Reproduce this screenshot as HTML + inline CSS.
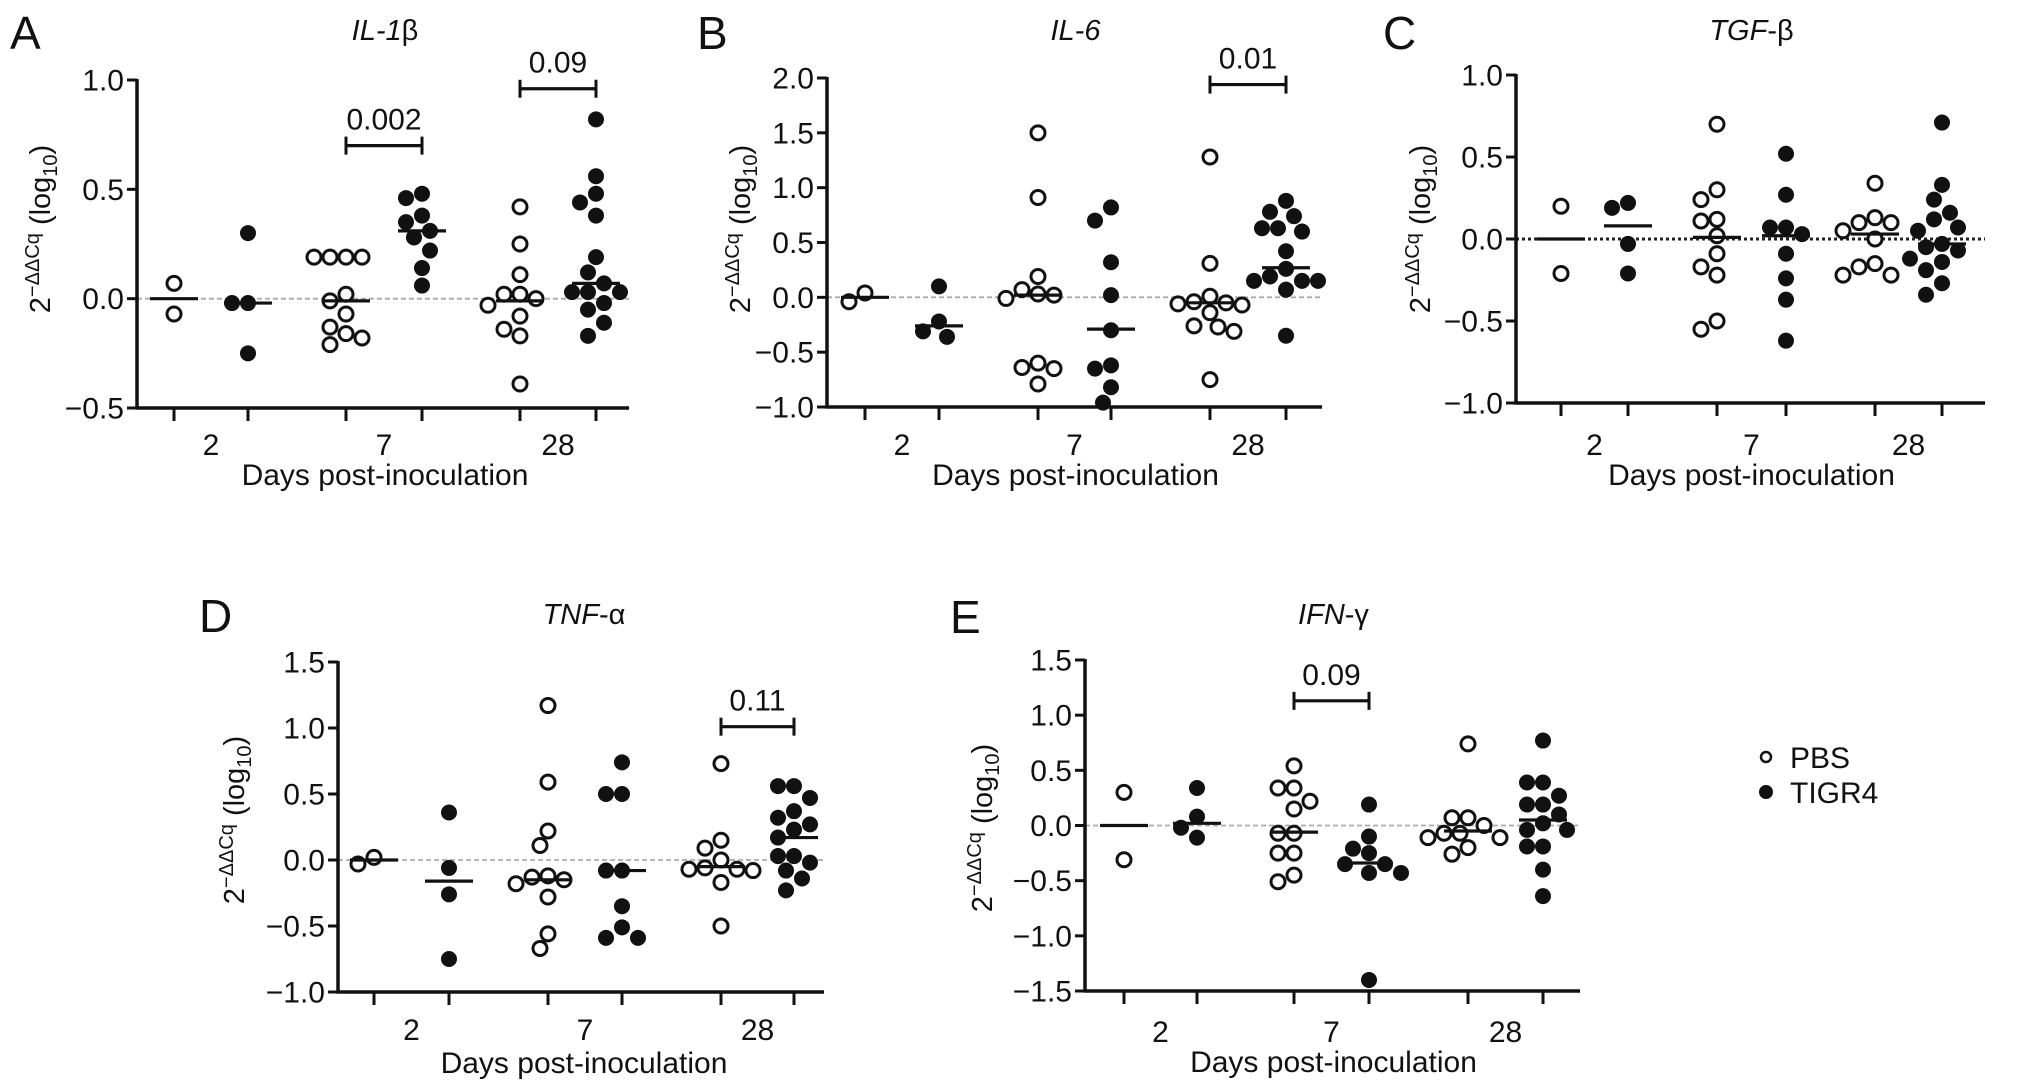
<!DOCTYPE html>
<html><head><meta charset="utf-8"><style>
html,body{margin:0;padding:0;background:#fff;}
svg{display:block;font-family:"Liberation Sans",Arial,sans-serif;}
</style></head><body>
<svg id="fig" width="2032" height="1092" viewBox="0 0 2032 1092" xmlns="http://www.w3.org/2000/svg"></svg>
<script>
// ---- Data ----
const days = ["2","7","28"];
const groups = ["PBS","TIGR4"];
// Panel A IL-1β
const a_pbs_d2 = [0.07,-0.07];
const a_tig_d2 = [0.30,-0.02,-0.02,-0.25];
const a_pbs_d7 = [0.19,0.19,0.19,0.19,0.02,-0.01,-0.07,-0.13,-0.16,-0.18,-0.21];
const a_tig_d7 = [0.48,0.46,0.38,0.35,0.31,0.28,0.22,0.14,0.06];
const a_pbs_d28 = [0.42,0.25,0.11,0.02,0.02,0.0,-0.03,-0.08,-0.14,-0.17,-0.39];
const a_tig_d28 = [0.82,0.56,0.48,0.44,0.38,0.19,0.12,0.07,0.03,0.03,0.03,-0.02,-0.05,-0.11,-0.17];
const a_medians = [0.0,-0.02,-0.01,0.31,-0.01,0.07];
// Panel B IL-6
const b_pbs_d2 = [-0.04,0.04];
const b_tig_d2 = [0.10,-0.22,-0.31,-0.36];
const b_pbs_d7 = [1.50,0.91,0.19,0.07,0.03,0.02,-0.01,-0.60,-0.64,-0.65,-0.79];
const b_tig_d7 = [0.82,0.70,0.32,0.02,-0.30,-0.62,-0.65,-0.82,-0.96];
const b_pbs_d28 = [1.28,0.31,0.01,-0.04,-0.05,-0.06,-0.07,-0.14,-0.26,-0.27,-0.31,-0.75];
const b_tig_d28 = [0.88,0.78,0.74,0.63,0.63,0.60,0.42,0.26,0.19,0.15,0.15,0.15,0.07,-0.35];
const b_medians = [0.0,-0.26,0.02,-0.29,-0.05,0.27];
// Panel C TGF-β
const c_pbs_d2 = [0.20,-0.21];
const c_tig_d2 = [0.22,0.19,-0.03,-0.21];
const c_pbs_d7 = [0.70,0.30,0.24,0.12,0.11,0.02,-0.09,-0.17,-0.22,-0.50,-0.55];
const c_tig_d7 = [0.52,0.27,0.07,0.07,0.03,-0.09,-0.24,-0.37,-0.62];
const c_pbs_d28 = [0.34,0.13,0.10,0.10,0.05,0.0,-0.15,-0.17,-0.22,-0.22];
const c_tig_d28 = [0.71,0.33,0.24,0.16,0.12,0.07,0.05,-0.03,-0.05,-0.07,-0.12,-0.14,-0.19,-0.27,-0.34];
const c_medians = [0.0,0.08,0.01,0.02,0.03,-0.03];
// Panel D TNF-α
const d_pbs_d2 = [-0.03,0.02];
const d_tig_d2 = [0.36,-0.06,-0.26,-0.75];
const d_pbs_d7 = [1.17,0.59,0.22,0.11,-0.12,-0.13,-0.15,-0.18,-0.28,-0.56,-0.67];
const d_tig_d7 = [0.74,0.50,0.50,-0.08,-0.08,-0.35,-0.51,-0.59,-0.59];
const d_pbs_d28 = [0.73,0.15,0.09,0.0,-0.06,-0.07,-0.07,-0.08,-0.17,-0.50];
const d_tig_d28 = [0.56,0.56,0.47,0.37,0.32,0.27,0.23,0.17,0.03,0.03,-0.02,-0.08,-0.14,-0.23];
const d_medians = [0.0,-0.16,-0.15,-0.08,-0.05,0.17];
// Panel E IFN-γ
const e_pbs_d2 = [0.30,-0.31];
const e_tig_d2 = [0.34,0.08,-0.02,-0.11];
const e_pbs_d7 = [0.54,0.34,0.34,0.22,0.15,-0.07,-0.07,-0.25,-0.25,-0.45,-0.51];
const e_tig_d7 = [0.19,-0.10,-0.21,-0.25,-0.35,-0.35,-0.43,-0.43,-1.40];
const e_pbs_d28 = [0.74,0.07,0.07,0.0,-0.07,-0.07,-0.11,-0.11,-0.20,-0.26];
const e_tig_d28 = [0.77,0.39,0.39,0.27,0.19,0.19,0.10,0.02,-0.04,-0.04,-0.19,-0.19,-0.40,-0.64];
const e_medians = [0.0,0.02,-0.06,-0.34,-0.05,0.05];
// Significance brackets: [first column index, value height, label]
const a_brackets = [[2,0.70,"0.002"],[4,0.96,"0.09"]];
const b_brackets = [[4,1.94,"0.01"]];
const c_brackets = [];
const d_brackets = [[4,1.01,"0.11"]];
const e_brackets = [[2,1.13,"0.09"]];
// Y tick values
const a_ticks = [-0.5,0.0,0.5,1.0];
const b_ticks = [-1.0,-0.5,0.0,0.5,1.0,1.5,2.0];
const c_ticks = [-1.0,-0.5,0.0,0.5,1.0];
const d_ticks = [-1.0,-0.5,0.0,0.5,1.0,1.5];
const e_ticks = [-1.5,-1.0,-0.5,0.0,0.5,1.0,1.5];

// ---- Layout ----
const panels = [
 {id:"a",letter:"A",title:"IL-1",greek:"β",ax:137,yTop:80,yBot:408,ymin:-0.5,ymax:1.0,cols:[174,248,346,422,520,596],xEnd:629,
  letterXY:[10,49],titleY:40,ylabX:40,ylabY:229,catY:455,daysY:485,zero:"dash",
  data:[a_pbs_d2,a_tig_d2,a_pbs_d7,a_tig_d7,a_pbs_d28,a_tig_d28],med:a_medians,br:a_brackets,ticks:a_ticks},
 {id:"b",letter:"B",title:"IL-6",greek:"",ax:827,yTop:78,yBot:407,ymin:-1.0,ymax:2.0,cols:[865,939,1038,1111,1210,1286],xEnd:1322,
  letterXY:[697,49],titleY:40,ylabX:740,ylabY:229,catY:455,daysY:485,zero:"dash",
  data:[b_pbs_d2,b_tig_d2,b_pbs_d7,b_tig_d7,b_pbs_d28,b_tig_d28],med:b_medians,br:b_brackets,ticks:b_ticks},
 {id:"c",letter:"C",title:"TGF",greek:"-β",ax:1516,yTop:75,yBot:403,ymin:-1.0,ymax:1.0,cols:[1561,1628,1717,1786,1875,1942],xEnd:1985,
  letterXY:[1383,49],titleY:40,ylabX:1420,ylabY:229,catY:455,daysY:485,zero:"dot",
  data:[c_pbs_d2,c_tig_d2,c_pbs_d7,c_tig_d7,c_pbs_d28,c_tig_d28],med:c_medians,br:c_brackets,ticks:c_ticks},
 {id:"d",letter:"D",title:"TNF",greek:"-α",ax:338,yTop:662,yBot:992,ymin:-1.0,ymax:1.5,cols:[374,449,548,622,721,794],xEnd:824,
  letterXY:[199,632],titleY:624,ylabX:234,ylabY:820,catY:1040,daysY:1073,zero:"dash",
  data:[d_pbs_d2,d_tig_d2,d_pbs_d7,d_tig_d7,d_pbs_d28,d_tig_d28],med:d_medians,br:d_brackets,ticks:d_ticks},
 {id:"e",letter:"E",title:"IFN",greek:"-γ",ax:1085,yTop:660,yBot:991,ymin:-1.5,ymax:1.5,cols:[1124,1197,1294,1369,1468,1543],xEnd:1580,
  letterXY:[950,633],titleY:624,ylabX:982,ylabY:828,catY:1042,daysY:1072,zero:"dash",
  data:[e_pbs_d2,e_tig_d2,e_pbs_d7,e_tig_d7,e_pbs_d28,e_tig_d28],med:e_medians,br:e_brackets,ticks:e_ticks}
];

const NS = "http://www.w3.org/2000/svg";
const svg = document.getElementById("fig");
function mk(tag, attrs, parent, text){
  const el = document.createElementNS(NS, tag);
  for (const k in attrs) el.setAttribute(k, attrs[k]);
  if (text !== undefined) el.textContent = text;
  (parent||svg).appendChild(el);
  return el;
}
function fmt(v){ return (v<0?"\u2212":"") + Math.abs(v).toFixed(1); }

const R = 7.5, STEP = 16;
function swarm(vals, cx, yf){
  const pts = [];
  const sorted = vals.slice().sort((a,b)=>b-a);
  sorted.forEach(v=>{
    const y = yf(v);
    const offs = [0];
    for (let k=1;k<8;k++){ offs.push(-k*STEP/2); offs.push(k*STEP/2); }
    let chosen = 0;
    for (const o of offs){
      const x = cx + o;
      const ok = pts.every(p => Math.hypot(p.x-x, p.y-y) >= 2*R+1);
      if (ok){ chosen = o; break; }
    }
    pts.push({x:cx+chosen, y:y, v:v});
  });
  return pts;
}

panels.forEach(P=>{
  const g = mk("g",{}, svg);
  
  
  const yf = v => P.yBot - (v - P.ymin)/(P.ymax - P.ymin)*(P.yBot - P.yTop);

  const letter = mk("text",{x:P.letterXY[0],y:P.letterXY[1],"font-size":46,fill:"#111"},g,P.letter);
  
  

  const midX = (P.cols[0]+P.cols[5])/2;
  const t = mk("text",{x:midX,y:P.titleY,"font-size":29,"text-anchor":"middle",fill:"#111"},g);
  
  
  mk("tspan",{"font-style":"italic"},t,P.title);
  if (P.greek) mk("tspan",{},t,P.greek);

  const z = yf(0);
  const zl = mk("line",{x1:P.ax,x2:P.xEnd,y1:z,y2:z,stroke:P.zero==="dot"?"#222":"#aaa","stroke-width":P.zero==="dot"?3:1.8,"stroke-dasharray":P.zero==="dot"?"3,3":"5,3"},g);
  
  

  const ya = mk("line",{x1:P.ax,x2:P.ax,y1:P.yTop-1,y2:P.yBot+1.5,stroke:"#111","stroke-width":3.5},g);
  
  
  const xa = mk("line",{x1:P.ax-1.5,x2:P.xEnd,y1:P.yBot,y2:P.yBot,stroke:"#111","stroke-width":3.5},g);
  
  

  P.ticks.forEach(tv=>{
    const y = yf(tv);
    mk("line",{x1:P.ax-10,x2:P.ax,y1:y,y2:y,stroke:"#111","stroke-width":3},g);
    const tl = mk("text",{x:P.ax-13,y:y+10.5,"font-size":30,"text-anchor":"end",fill:"#111"},g,fmt(tv));
    
    
  });
  P.cols.forEach(cx=>{
    mk("line",{x1:cx,x2:cx,y1:P.yBot,y2:P.yBot+13,stroke:"#111","stroke-width":3},g);
  });
  days.forEach((d,i)=>{
    const cx = (P.cols[2*i]+P.cols[2*i+1])/2;
    const cl = mk("text",{x:cx,y:P.catY,"font-size":30,"text-anchor":"middle",fill:"#111"},g,d);
    
    
  });
  const xt = mk("text",{x:midX,y:P.daysY,"font-size":30,"text-anchor":"middle",fill:"#111"},g,"Days post-inoculation");
  
  

  const yl = mk("text",{x:0,y:0,"font-size":29,"text-anchor":"middle",fill:"#111",transform:`translate(${P.ylabX+10},${P.ylabY}) rotate(-90)`},g);
  
  
  mk("tspan",{},yl,"2");
  mk("tspan",{"font-size":20,dy:-11},yl,"\u2212\u0394\u0394Cq");
  mk("tspan",{dy:11},yl," (log");
  mk("tspan",{"font-size":20,dy:7},yl,"10");
  mk("tspan",{dy:-7},yl,")");

  P.data.forEach((vals,ci)=>{
    const open = ci%2===0;
    const cx = P.cols[ci];
    const pts = swarm(vals, cx, yf);
    pts.forEach(p=>{
      const c = mk("circle",{cx:p.x,cy:p.y,r:open?7:R,fill:open?"#fff":"#111",stroke:"#111","stroke-width":open?3:1},g);
      
      
    });
    const my = yf(P.med[ci]);
    const ml = mk("line",{x1:cx-24,x2:cx+24,y1:my,y2:my,stroke:"#111","stroke-width":3.2},g);
    
    
  });

  P.br.forEach(b=>{
    const x1 = P.cols[b[0]], x2 = P.cols[b[0]+1], y = yf(b[1]);
    const bg = mk("g",{},g);
    
    
    mk("line",{x1:x1,x2:x2,y1:y,y2:y,stroke:"#111","stroke-width":3.2},bg);
    mk("line",{x1:x1,x2:x1,y1:y-9,y2:y+9,stroke:"#111","stroke-width":3},bg);
    mk("line",{x1:x2,x2:x2,y1:y-9,y2:y+9,stroke:"#111","stroke-width":3},bg);
    const pl = mk("text",{x:(x1+x2)/2,y:y-16,"font-size":30,"text-anchor":"middle",fill:"#111"},bg,b[2]);
    
    
  });
});

const lg = mk("g",{},svg);


groups.forEach((gname,i)=>{
  const y = 757 + i*35;
  const e = mk("g",{},lg);
  
  
  mk("circle",{cx:1766,cy:y,r:i===0?5:6.5,fill:i===0?"#fff":"#111",stroke:"#111","stroke-width":i===0?2.5:1},e);
  mk("text",{x:1790,y:y+11,"font-size":30,fill:"#111"},e,gname);
});
</script>
</body></html>
